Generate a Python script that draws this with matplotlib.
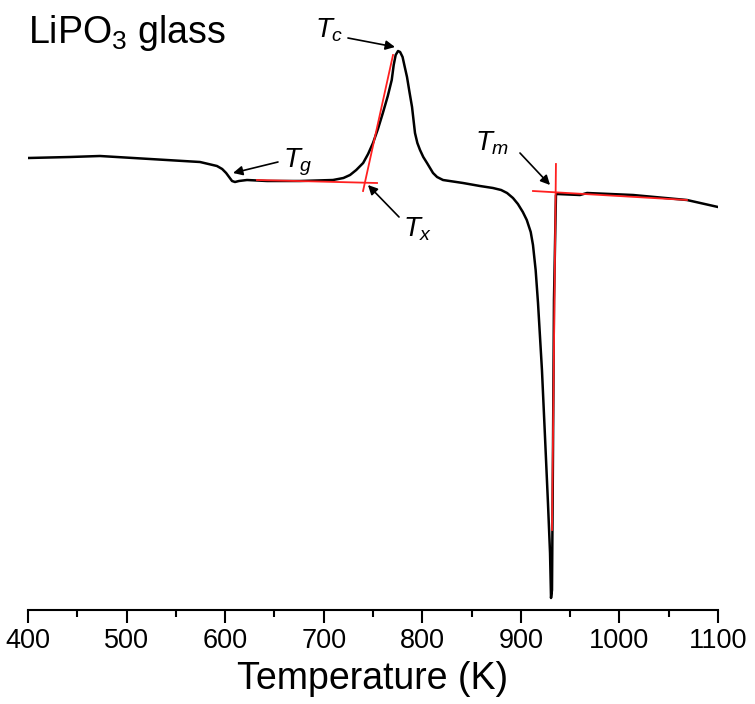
import matplotlib
matplotlib.use('Agg')
import matplotlib.pyplot as plt
from matplotlib.ticker import MultipleLocator

plt.rcParams['font.family'] = ['Liberation Sans', 'DejaVu Sans']
plt.rcParams['mathtext.fontset'] = 'custom'
plt.rcParams['mathtext.rm'] = 'Liberation Sans'
plt.rcParams['mathtext.it'] = 'Liberation Sans:italic'

# DSC trace of LiPO3 glass (signal in arbitrary units)
temp = [400, 442.6, 473, 523.8, 574.5, 591.7, 597, 601, 604, 607, 610, 614, 622.2,
        642.5, 676, 709.4, 720, 726.7, 733, 740, 745, 750, 755, 760, 765, 769, 771, 773,
        775.4, 777.5, 780, 782, 784.5, 787, 789.6, 792.6, 795, 797.7, 801, 804.8,
        810.9, 815, 821, 841.3, 858.5, 871.7, 880, 886, 892, 897, 902, 906, 910, 912.3,
        915, 917.4, 921.4, 924.5, 927.5, 929.6, 930.6, 931.6, 932.6, 933.6, 935.6, 936.7,
        960, 967.1, 1013.8, 1068.5, 1100]
signal = [4.52, 4.53, 4.54, 4.51, 4.48, 4.44, 4.41, 4.37, 4.33, 4.29, 4.28, 4.29, 4.30,
          4.29, 4.29, 4.30, 4.32, 4.35, 4.40, 4.47, 4.56, 4.67, 4.81, 4.97, 5.14, 5.30, 5.45,
          5.55, 5.59, 5.58, 5.53, 5.44, 5.33, 5.18, 5.03, 4.77, 4.67, 4.60, 4.53, 4.47,
          4.37, 4.33, 4.30, 4.27, 4.24, 4.22, 4.20, 4.17, 4.12, 4.06, 3.98, 3.90, 3.78, 3.65,
          3.40, 3.07, 2.40, 1.73, 1.07, 0.57, 0.12, 0.20, 1.60, 3.10, 4.15, 4.16,
          4.15, 4.17, 4.15, 4.10, 4.03]

# onset construction lines
tx_base_t = [632.3, 754.1]
tx_base_s = [4.30, 4.27]
tx_tan_t = [739.9, 770.3]
tx_tan_s = [4.19, 5.55]
tm_base_t = [912.3, 1068.5]
tm_base_s = [4.19, 4.10]
tm_vert_t = [935.6, 931.6]
tm_vert_s = [4.46, 0.80]

fig = plt.figure(figsize=(7.55, 7.04), dpi=100)
ax = fig.add_axes([28/755, 94/704, 690/755, 610/704])

ax.plot(tx_base_t, tx_base_s, color='#ff2020', lw=1.3, zorder=3)
ax.plot(tx_tan_t, tx_tan_s, color='#ff2020', lw=1.3, zorder=3)
ax.plot(tm_base_t, tm_base_s, color='#ff2020', lw=1.3, zorder=3)
ax.plot(tm_vert_t, tm_vert_s, color='#ff2020', lw=1.3, zorder=3)
ax.plot(temp, signal, color='k', lw=1.8, zorder=2)

arrow = dict(arrowstyle='-|>', color='k', lw=1.2, mutation_scale=14, shrinkA=0, shrinkB=0)
ax.annotate('', xy=(772.3, 5.63), xytext=(724.6, 5.72), arrowprops=arrow)
ax.text(705.4, 5.80, '$T_c$', fontsize=20, ha='center', va='center')
ax.annotate('', xy=(608.0, 4.37), xytext=(653.6, 4.48), arrowprops=arrow)
ax.text(673.9, 4.48, '$T_g$', fontsize=20, ha='center', va='center')
ax.annotate('', xy=(744.9, 4.25), xytext=(776.4, 3.93), arrowprops=arrow)
ax.text(795.6, 3.81, '$T_x$', fontsize=20, ha='center', va='center')
ax.annotate('', xy=(929.6, 4.25), xytext=(899.1, 4.57), arrowprops=arrow)
ax.text(870.7, 4.67, '$T_m$', fontsize=20, ha='center', va='center')

ax.text(400, 5.67, 'LiPO$_3$ glass', fontsize=27, ha='left', va='baseline')

ax.set_xlim(400, 1100)
ax.set_ylim(0, 6.10)
ax.xaxis.set_major_locator(MultipleLocator(100))
ax.xaxis.set_minor_locator(MultipleLocator(50))
for s in ['left', 'right', 'top']:
    ax.spines[s].set_visible(False)
ax.spines['bottom'].set_linewidth(1.5)
ax.set_yticks([])
ax.tick_params(axis='x', which='major', direction='out', length=9, width=1.5,
               labelsize=19.5, pad=4)
ax.tick_params(axis='x', which='minor', direction='out', length=5, width=1.5)
ax.set_xlabel('Temperature (K)', fontsize=27, labelpad=5)
ax.patch.set_visible(False)

fig.savefig('out.png', dpi=100)
